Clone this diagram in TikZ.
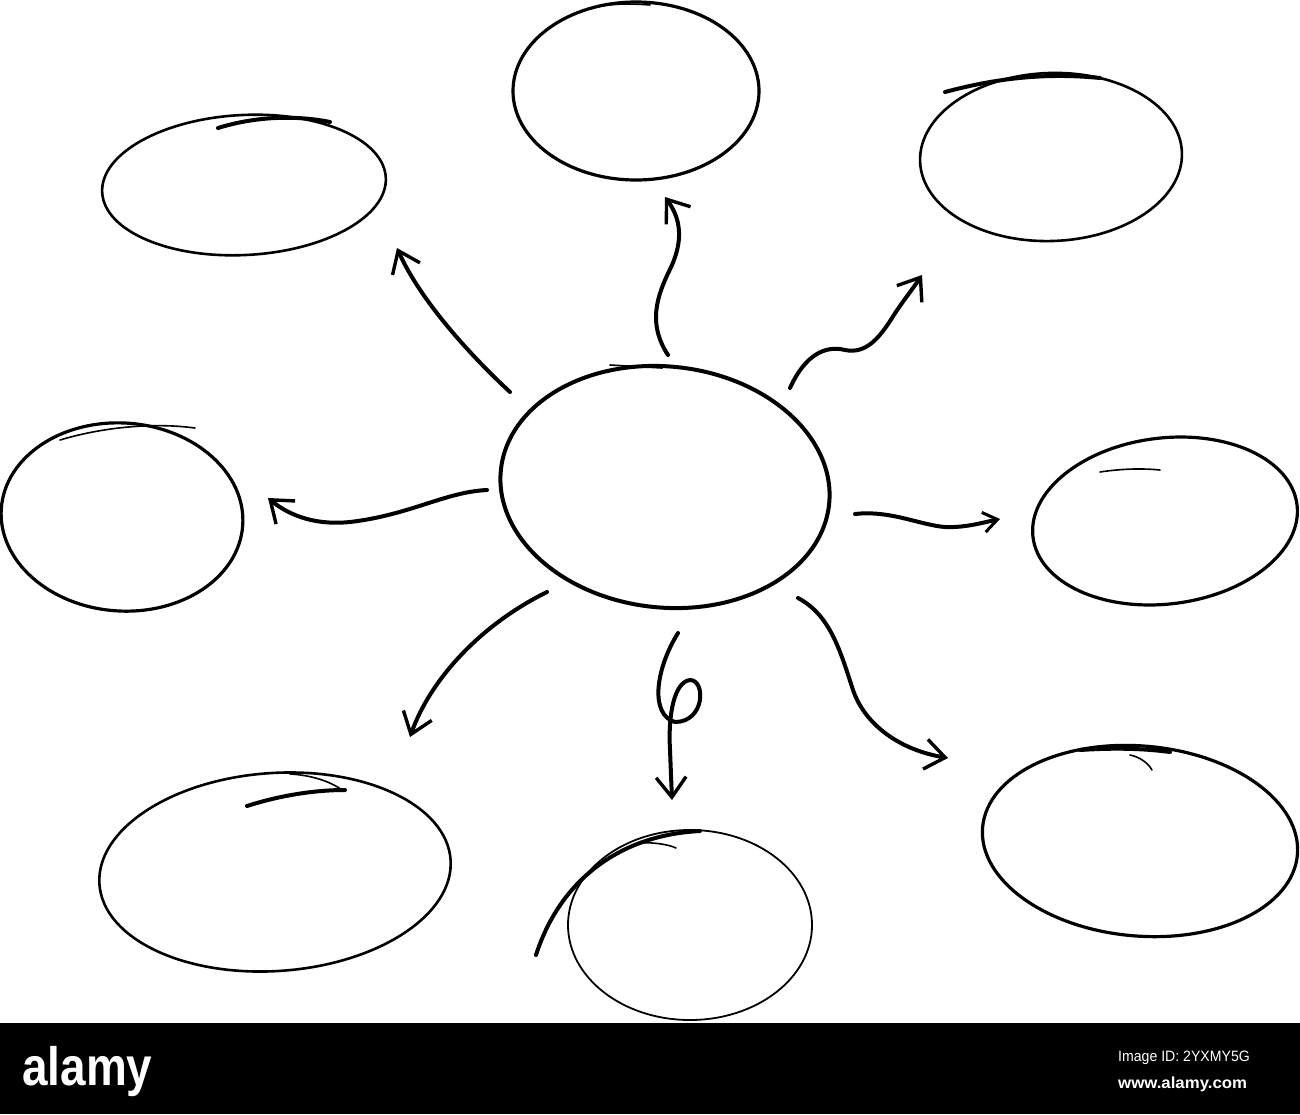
\documentclass[tikz,border=0pt]{standalone}
\usepackage{fontspec}
\setmainfont{Liberation Sans}
\usetikzlibrary{shapes.geometric,arrows.meta}
\begin{document}
\begin{tikzpicture}[x=1pt,y=-1pt,
  bubble/.style={draw=black, ellipse, line width=3.2pt, inner sep=0pt},
  arr/.style={line width=4pt, line cap=round, line join=round,
    -{Straight Barb[length=20pt,width=30pt,line width=3.4pt]}},
  over/.style={line width=4pt, line cap=round},
  fine/.style={line width=1.6pt, line cap=round},
  wm/.style={text=white, inner sep=0pt}]
\useasboundingbox (0,0) rectangle (1300,1114);
\fill[white] (0,0) rectangle (1300,1114);

% bubbles
\node[bubble, minimum width=330pt, minimum height=241pt, rotate=-6, line width=4pt] (center) at (665,487) {};
\node[bubble, minimum width=246pt, minimum height=178pt] (top) at (636,91) {};
\node[bubble, minimum width=284pt, minimum height=140pt, rotate=3, line width=2.6pt] (topleft) at (244,185) {};
\node[bubble, minimum width=262pt, minimum height=168pt, rotate=2, line width=2.6pt] (topright) at (1051,157) {};
\node[bubble, minimum width=242pt, minimum height=188pt, rotate=-4] (left) at (122,517) {};
\node[bubble, minimum width=266pt, minimum height=166pt, rotate=7] (right) at (1165,521) {};
\node[bubble, minimum width=352pt, minimum height=198pt, rotate=4, line width=2.6pt] (botleft) at (275,872) {};
\node[bubble, minimum width=244pt, minimum height=190pt, line width=1.8pt] (bottom) at (690,925) {};
\node[bubble, minimum width=316pt, minimum height=190pt, rotate=-5] (botright) at (1140,841) {};

% overstrokes
\draw[fine] (610,365) -- (662,368);
\draw[fine] (590,9) .. controls (605,4) and (625,3) .. (650,5);
\draw[over] (218,128) .. controls (250,118) and (290,114) .. (330,122);
\draw[over] (945,92) .. controls (990,80) and (1040,72) .. (1100,78);
\draw[fine] (60,440) .. controls (100,428) and (150,422) .. (195,428);
\draw[fine] (1100,472) .. controls (1120,469) and (1140,468) .. (1160,470);
\draw[over] (247,806) .. controls (275,797) and (310,790) .. (345,790);
\draw[fine] (290,774) .. controls (310,775) and (330,781) .. (342,790);
\draw[over] (536,955) .. controls (560,880) and (620,835) .. (700,831);
\draw[fine] (640,843) .. controls (655,842) and (670,845) .. (676,848);
\draw[over] (1080,750) .. controls (1110,748) and (1140,748) .. (1170,752);
\draw[fine] (1130,755) .. controls (1140,757) and (1148,763) .. (1152,770);

% arrow ends
\coordinate (s1) at (510,392); \coordinate (e1) at (397,248);
\coordinate (s2) at (668,355); \coordinate (e2) at (665,197);
\coordinate (s3) at (790,388); \coordinate (e3) at (922,275);
\coordinate (s4) at (487,490); \coordinate (e4) at (268,498);
\coordinate (s5) at (855,514); \coordinate (e5) at (1000,519);
\coordinate (s6) at (547,592); \coordinate (e6) at (410,737);
\coordinate (s7) at (678,633); \coordinate (e7) at (672,800);
\coordinate (s8) at (798,598); \coordinate (e8) at (948,758);

% arrows
\draw[arr] (s1) .. controls (470,355) and (420,300) .. (e1);
\draw[arr] (s2) .. controls (645,320) and (660,290) .. (672,265)
  .. controls (685,235) and (678,215) .. (e2);
\draw[arr] (s3) .. controls (805,355) and (825,345) .. (845,350)
  .. controls (865,354) and (878,340) .. (892,318)
  .. controls (902,302) and (912,290) .. (e3);
\draw[arr] (s4) .. controls (445,492) and (410,515) .. (350,522)
  .. controls (310,526) and (285,512) .. (e4);
\draw[arr, -{Straight Barb[length=14pt,width=20pt,line width=3pt]}] (s5) .. controls (890,510) and (920,525) .. (945,527)
  .. controls (965,528) and (985,522) .. (e5);
\draw[arr] (s6) .. controls (480,625) and (430,680) .. (e6);
\draw[arr] (s7) .. controls (655,670) and (650,715) .. (675,722)
  .. controls (705,722) and (706,680) .. (690,680)
  .. controls (674,682) and (668,715) .. (670,750) -- (e7);
\draw[arr] (s8) .. controls (830,615) and (840,650) .. (853,690)
  .. controls (865,725) and (900,750) .. (e8);

% watermark bar
\fill[black] (0,1023) rectangle (1300,1114);
\node[wm, anchor=base west, font=\fontsize{54}{56}\selectfont\bfseries] (logo) at (22,1085) {\scalebox{0.85}[1]{alamy}};
\node[wm, anchor=base west, font=\fontsize{15}{16}\selectfont] (imgid) at (1118,1061) {\scalebox{0.94}[1]{Image ID: 2YXMY5G}};
\node[wm, anchor=base west, font=\fontsize{16}{17}\selectfont\bfseries] (site) at (1118,1088) {\scalebox{1.05}[1]{www.alamy.com}};
\end{tikzpicture}
\end{document}
